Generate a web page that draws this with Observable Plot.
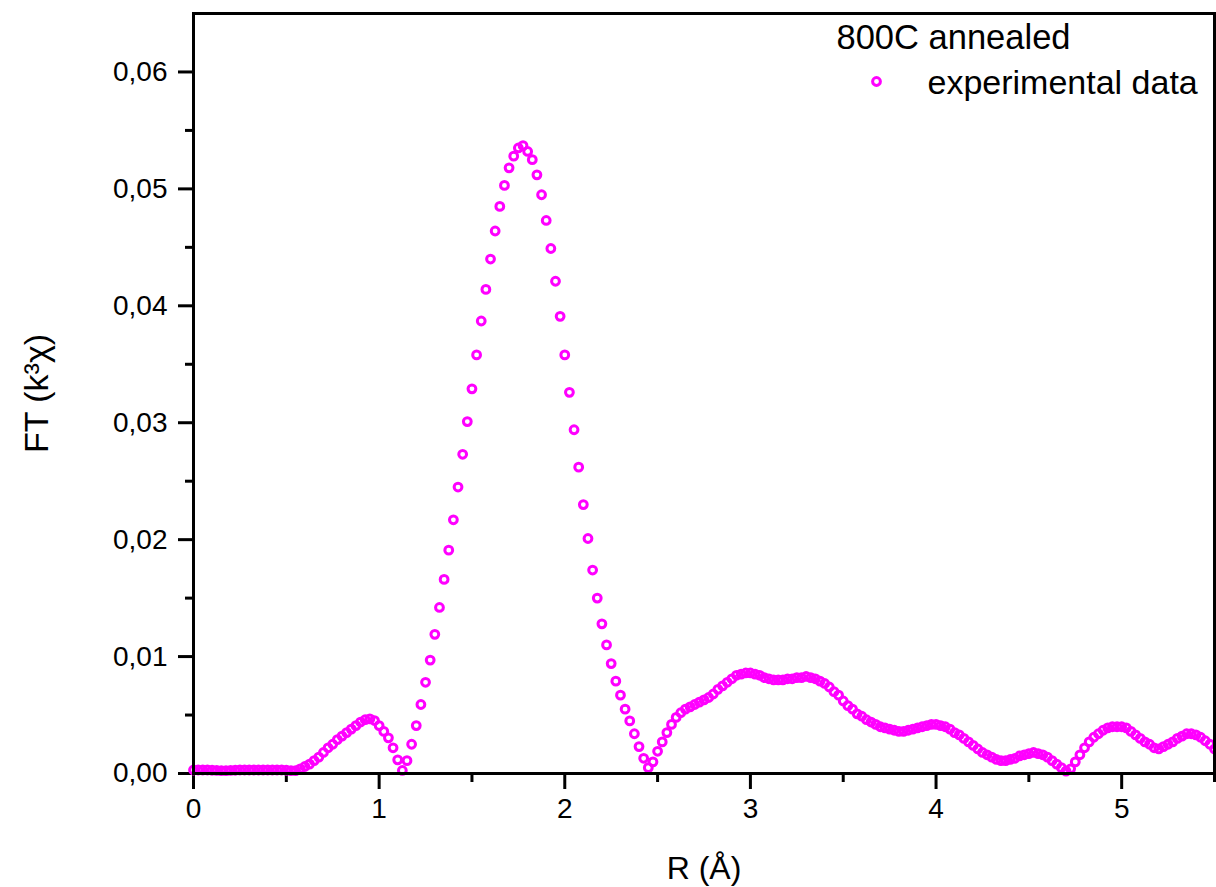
<!DOCTYPE html>
<html>
<head>
<meta charset="utf-8">
<script src="https://cdn.jsdelivr.net/npm/d3@7"></script>
<script src="https://cdn.jsdelivr.net/npm/@observablehq/plot@0.6"></script>
<style>
  html, body { margin: 0; padding: 0; background: #fff; }
  #chart { position: relative; width: 1216px; height: 887px; }
</style>
</head>
<body>
<div id="chart"></div>
<script>
// R grid (Å)
const R = [
  0,0.025,0.05,0.075,0.1,0.125,0.15,0.175,0.2,0.225,
  0.25,0.275,0.3,0.325,0.35,0.375,0.4,0.425,0.45,0.475,
  0.5,0.525,0.55,0.575,0.6,0.625,0.65,0.675,0.7,0.725,
  0.75,0.775,0.8,0.825,0.85,0.875,0.9,0.925,0.95,0.975,
  1,1.025,1.05,1.075,1.1,1.125,1.15,1.175,1.2,1.225,
  1.25,1.275,1.3,1.325,1.35,1.375,1.4,1.425,1.45,1.475,
  1.5,1.525,1.55,1.575,1.6,1.625,1.65,1.675,1.7,1.725,
  1.75,1.775,1.8,1.825,1.85,1.875,1.9,1.925,1.95,1.975,
  2,2.025,2.05,2.075,2.1,2.125,2.15,2.175,2.2,2.225,
  2.25,2.275,2.3,2.325,2.35,2.375,2.4,2.425,2.45,2.475,
  2.5,2.525,2.55,2.575,2.6,2.625,2.65,2.675,2.7,2.725,
  2.75,2.775,2.8,2.825,2.85,2.875,2.9,2.925,2.95,2.975,
  3,3.025,3.05,3.075,3.1,3.125,3.15,3.175,3.2,3.225,
  3.25,3.275,3.3,3.325,3.35,3.375,3.4,3.425,3.45,3.475,
  3.5,3.525,3.55,3.575,3.6,3.625,3.65,3.675,3.7,3.725,
  3.75,3.775,3.8,3.825,3.85,3.875,3.9,3.925,3.95,3.975,
  4,4.025,4.05,4.075,4.1,4.125,4.15,4.175,4.2,4.225,
  4.25,4.275,4.3,4.325,4.35,4.375,4.4,4.425,4.45,4.475,
  4.5,4.525,4.55,4.575,4.6,4.625,4.65,4.675,4.7,4.725,
  4.75,4.775,4.8,4.825,4.85,4.875,4.9,4.925,4.95,4.975,
  5,5.025,5.05,5.075,5.1,5.125,5.15,5.175,5.2,5.225,
  5.25,5.275,5.3,5.325,5.35,5.375,5.4,5.425,5.45,5.475,
  5.5
];
// FT magnitude (k^3 chi)
const FT = [
  0.0003,0.0003,0.0003,0.0003,0.00028,0.00026,0.00025,0.00025,0.00026,0.00028,
  0.0003,0.0003,0.0003,0.0003,0.0003,0.0003,0.0003,0.0003,0.0003,0.0003,
  0.00028,0.00025,0.00025,0.0004,0.0006,0.0008,0.0011,0.0014,0.0018,0.0022,
  0.0025,0.0029,0.0032,0.0035,0.0038,0.0041,0.0044,0.0046,0.00467,0.00453,
  0.0041,0.0036,0.00305,0.0022,0.00117,0.00026,0.0011,0.0025,0.0041,0.0059,
  0.0078,0.0097,0.0119,0.0142,0.0166,0.0191,0.0217,0.0245,0.0273,0.0301,
  0.0329,0.0358,0.0387,0.0414,0.0440,0.0464,0.0485,0.0503,0.0518,0.0528,
  0.0535,0.0537,0.0532,0.0525,0.0512,0.0495,0.0473,0.0449,0.0421,0.0391,
  0.0358,0.0326,0.0294,0.0262,0.0230,0.0201,0.0174,0.0150,0.0128,0.0110,
  0.0094,0.0079,0.0067,0.0055,0.0045,0.0034,0.0023,0.0013,0.0005,0.0010,
  0.0019,0.0027,0.0035,0.0042,0.0048,0.0052,0.0055,0.0057,0.0059,0.0061,
  0.0063,0.0065,0.0068,0.0072,0.0075,0.0078,0.0081,0.0084,0.0085,0.0086,
  0.0086,0.0085,0.0084,0.0082,0.0081,0.0080,0.0080,0.0080,0.0081,0.0081,
  0.0082,0.0082,0.0083,0.0082,0.0081,0.0079,0.0077,0.0074,0.0070,0.0067,
  0.0062,0.0058,0.0055,0.0051,0.0049,0.0046,0.0044,0.0042,0.0040,0.0039,
  0.0038,0.0037,0.0036,0.0036,0.0037,0.0038,0.0039,0.0040,0.0041,0.0042,
  0.0042,0.0041,0.0040,0.0038,0.0035,0.0033,0.0030,0.0027,0.0024,0.0021,
  0.0018,0.0016,0.0014,0.0012,0.0011,0.0011,0.0012,0.0013,0.0015,0.0016,
  0.0017,0.0018,0.0017,0.0016,0.0014,0.0011,0.0008,0.0005,0.0002,0.0004,
  0.0010,0.0016,0.0022,0.0027,0.0031,0.0034,0.0037,0.0039,0.0040,0.0040,
  0.0040,0.0039,0.0036,0.0033,0.0030,0.0027,0.0025,0.0022,0.0021,0.0023,
  0.0025,0.0027,0.0030,0.0032,0.0034,0.0034,0.0033,0.0031,0.0028,0.0025,
  0.0021
];
const xMajorTicks = [0, 1, 2, 3, 4, 5];
const xMinorTicks = [0.5, 1.5, 2.5, 3.5, 4.5, 5.5];
const yMajorTicks = [0, 0.01, 0.02, 0.03, 0.04, 0.05, 0.06];
const yMinorTicks = [0.005, 0.015, 0.025, 0.035, 0.045, 0.055];
const xTitle = "R (Å)";
const yTitle = "FT (k³χ)";
const legendTitle = "800C annealed";
const seriesName = "experimental data";

const data = R.map((r, i) => ({r, ft: FT[i]}));
const magenta = "#ff00ff";
const fmtY = d => d.toFixed(2).replace(".", ",");
const font = "'Liberation Sans', Arial, Helvetica, sans-serif";

const chart = Plot.plot({
  width: 1216,
  height: 887,
  marginLeft: 193,
  marginRight: 2,
  marginTop: 13,
  marginBottom: 114,
  style: {fontFamily: font, color: "#000", background: "#fff", overflow: "visible"},
  x: {domain: [0, 5.5], axis: null},
  y: {domain: [0, 0.065], axis: null},
  marks: [
    Plot.axisX(xMinorTicks, {tickSize: 9, strokeWidth: 3, tickFormat: () => "", label: null}),
    Plot.axisX(xMajorTicks, {tickSize: 16, strokeWidth: 3, tickPadding: 9, fontSize: 28, tickFormat: d => String(d), label: null}),
    Plot.axisY(yMinorTicks, {tickSize: 8, strokeWidth: 3, tickFormat: () => "", label: null}),
    Plot.axisY(yMajorTicks, {tickSize: 15, strokeWidth: 3, tickPadding: 11, fontSize: 28, tickFormat: fmtY, label: null}),
    Plot.dot(data, {x: "r", y: "ft", r: 3.9, stroke: magenta, strokeWidth: 3, fill: "none"}),
    Plot.frame({stroke: "#000", strokeWidth: 3}),
    Plot.text([xTitle], {frameAnchor: "bottom", dy: 95, fontSize: 32, lineAnchor: "middle", text: d => d}),
    Plot.text([yTitle], {frameAnchor: "left", dx: -156, rotate: -90, fontSize: 34, textAnchor: "middle", lineAnchor: "middle", text: d => d}),
    Plot.text([legendTitle], {frameAnchor: "top-left", dx: 643, dy: 24, fontSize: 34.5, textAnchor: "start", lineAnchor: "middle", text: d => d}),
    Plot.dot([seriesName], {frameAnchor: "top-left", dx: 683, dy: 68, r: 3.9, stroke: magenta, strokeWidth: 3, fill: "none"}),
    Plot.text([seriesName], {frameAnchor: "top-left", dx: 734, dy: 70, fontSize: 34, textAnchor: "start", lineAnchor: "middle", text: d => d})
  ]
});
document.getElementById("chart").appendChild(chart);
</script>
</body>
</html>
